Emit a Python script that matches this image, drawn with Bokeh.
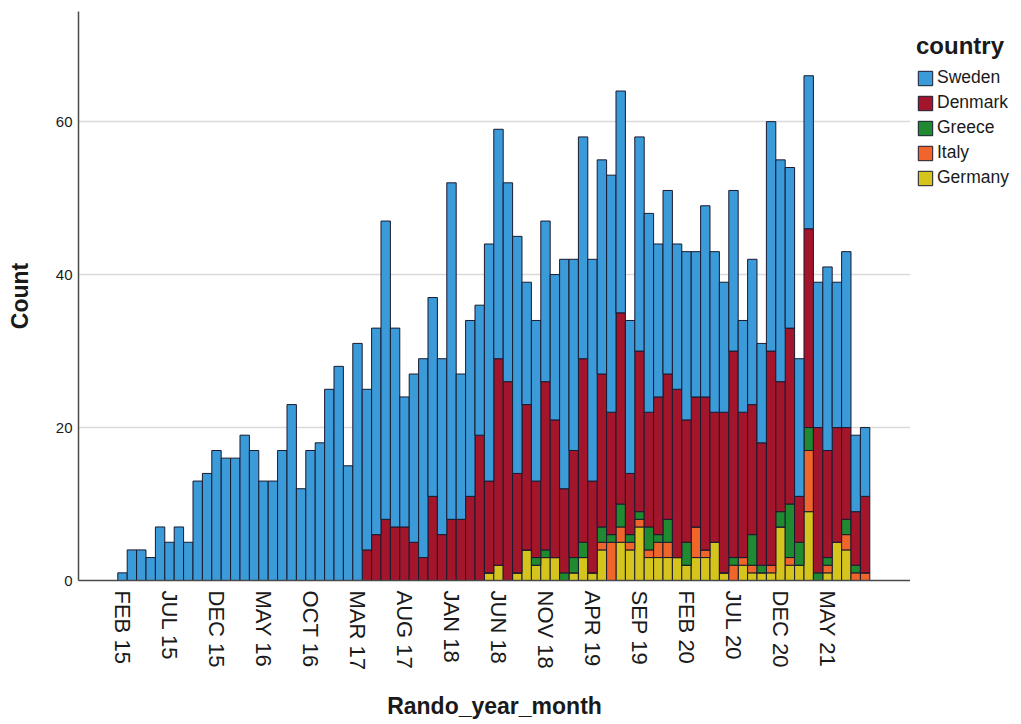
import math
from bokeh.plotting import figure
from bokeh.layouts import row
from bokeh.models import Range1d, FixedTicker, Legend, LegendItem, ColumnDataSource
from bokeh.embed import file_html
from bokeh.resources import INLINE

months = ["FEB 15", "MAR 15", "APR 15", "MAY 15", "JUN 15", "JUL 15", "AUG 15", "SEP 15", "OCT 15", "NOV 15", "DEC 15",
          "JAN 16", "FEB 16", "MAR 16", "APR 16", "MAY 16", "JUN 16", "JUL 16", "AUG 16", "SEP 16", "OCT 16", "NOV 16", "DEC 16",
          "JAN 17", "FEB 17", "MAR 17", "APR 17", "MAY 17", "JUN 17", "JUL 17", "AUG 17", "SEP 17", "OCT 17", "NOV 17", "DEC 17",
          "JAN 18", "FEB 18", "MAR 18", "APR 18", "MAY 18", "JUN 18", "JUL 18", "AUG 18", "SEP 18", "OCT 18", "NOV 18", "DEC 18",
          "JAN 19", "FEB 19", "MAR 19", "APR 19", "MAY 19", "JUN 19", "JUL 19", "AUG 19", "SEP 19", "OCT 19", "NOV 19", "DEC 19",
          "JAN 20", "FEB 20", "MAR 20", "APR 20", "MAY 20", "JUN 20", "JUL 20", "AUG 20", "SEP 20", "OCT 20", "NOV 20", "DEC 20",
          "JAN 21", "FEB 21", "MAR 21", "APR 21", "MAY 21", "JUN 21", "JUL 21", "AUG 21", "SEP 21"]

sweden = [1, 4, 4, 3, 7, 5, 7, 5, 13, 14, 17, 16, 16, 19, 17, 13, 13, 17, 23, 12,
          17, 18, 25, 28, 15, 31, 21, 27, 39, 26, 17, 22, 26, 26, 23, 44, 19, 23, 17, 31,
          30, 26, 31, 16, 21, 21, 19, 30, 25, 29, 29, 28, 31, 29, 20, 28, 26, 20, 24, 19,
          22, 19, 25, 21, 17, 21, 12, 19, 13, 30, 29, 21, 18, 20, 19, 24, 19, 23, 10, 9]
denmark = [0, 0, 0, 0, 0, 0, 0, 0, 0, 0, 0, 0, 0, 0, 0, 0, 0, 0, 0, 0,
           0, 0, 0, 0, 0, 0, 4, 6, 8, 7, 7, 5, 3, 11, 6, 8, 8, 11, 19, 12,
           27, 26, 13, 19, 10, 22, 18, 11, 14, 24, 12, 20, 16, 25, 8, 21, 15, 18, 19, 22,
           16, 17, 20, 17, 21, 27, 19, 17, 16, 28, 17, 23, 6, 26, 19, 14, 15, 12, 7, 10]
greece = [0, 0, 0, 0, 0, 0, 0, 0, 0, 0, 0, 0, 0, 0, 0, 0, 0, 0, 0, 0,
          0, 0, 0, 0, 0, 0, 0, 0, 0, 0, 0, 0, 0, 0, 0, 0, 0, 0, 0, 0,
          0, 0, 0, 0, 1, 1, 0, 1, 2, 2, 0, 2, 1, 3, 1, 1, 3, 1, 3, 0,
          3, 0, 0, 0, 0, 1, 0, 4, 1, 0, 2, 7, 3, 3, 1, 1, 0, 2, 1, 0]
italy = [0, 0, 0, 0, 0, 0, 0, 0, 0, 0, 0, 0, 0, 0, 0, 0, 0, 0, 0, 0,
         0, 0, 0, 0, 0, 0, 0, 0, 0, 0, 0, 0, 0, 0, 0, 0, 0, 0, 0, 0,
         0, 0, 0, 0, 0, 0, 0, 0, 0, 0, 0, 1, 5, 2, 1, 1, 1, 2, 2, 0,
         0, 4, 1, 0, 0, 2, 1, 1, 0, 1, 0, 1, 0, 8, 0, 1, 0, 2, 1, 1]
germany = [0, 0, 0, 0, 0, 0, 0, 0, 0, 0, 0, 0, 0, 0, 0, 0, 0, 0, 0, 0,
           0, 0, 0, 0, 0, 0, 0, 0, 0, 0, 0, 0, 0, 0, 0, 0, 0, 0, 0, 1,
           2, 0, 1, 4, 2, 3, 3, 0, 1, 3, 1, 4, 0, 5, 4, 7, 3, 3, 3, 3,
           2, 3, 3, 5, 1, 0, 2, 1, 1, 1, 7, 2, 2, 9, 0, 1, 5, 4, 0, 0]

countries = ["Sweden", "Denmark", "Greece", "Italy", "Germany"]
colors = {"Sweden": "#3b9ad8", "Denmark": "#a3152a", "Greece": "#1f8a30",
          "Italy": "#f0662a", "Germany": "#d4c41c"}
y_ticks = [0, 20, 40, 60]
grid_ticks = [20, 40, 60]
label_every = 5

FONT = "Liberation Sans"
TXT = "#1a1a1a"
EDGE = "#1a1a30"

x = list(range(len(months)))
source = ColumnDataSource(dict(x=x, Sweden=sweden, Denmark=denmark, Greece=greece,
                               Italy=italy, Germany=germany))

W, H = 910, 724
MT, MB = 11, 144
p = figure(width=W, height=H, output_backend="svg", toolbar_location=None,
           x_range=Range1d(-4.68, 83.83), y_range=Range1d(0, 74.4),
           min_border_left=78, min_border_right=0, min_border_top=MT, min_border_bottom=MB)
p.outline_line_color = None
p.background_fill_color = "white"
p.border_fill_color = "white"

stack_order = ["Germany", "Italy", "Greece", "Denmark", "Sweden"]
p.vbar_stack(stack_order, x="x", width=1.0, source=source,
             fill_color=[colors[c] for c in stack_order],
             line_color=EDGE, line_width=1)

p.xgrid.visible = False
p.ygrid.ticker = FixedTicker(ticks=grid_ticks)
p.ygrid.grid_line_color = "#dadada"
p.ygrid.grid_line_width = 1.5

tick_pos = list(range(0, len(months), label_every))
p.xaxis.ticker = FixedTicker(ticks=tick_pos)
p.xaxis.major_label_overrides = {i: months[i] for i in tick_pos}
p.xaxis.major_label_orientation = -math.pi / 2
p.yaxis.ticker = FixedTicker(ticks=y_ticks)

for ax in (p.xaxis[0], p.yaxis[0]):
    ax.axis_line_color = "#4a4a4a"
    ax.axis_line_width = 1.5
    ax.major_tick_line_color = None
    ax.major_tick_out = 0
    ax.major_tick_in = 0
    ax.minor_tick_line_color = None
    ax.major_label_text_font = FONT
    ax.major_label_text_color = TXT
    ax.axis_label_text_font = FONT
    ax.axis_label_text_font_style = "bold"
    ax.axis_label_text_font_size = "23px"
    ax.axis_label_text_color = TXT

p.xaxis.major_label_text_font_size = "22px"
p.xaxis.major_label_standoff = 10
p.xaxis.axis_label = "Rando_year_month"
p.xaxis.axis_label_standoff = 20
p.yaxis.major_label_text_font_size = "15px"
p.yaxis.major_label_standoff = 6
p.yaxis.axis_label = "Count"
p.yaxis.axis_label_standoff = 20

# legend panel to the right of the chart (its frame is aligned with the chart's frame)
lg = figure(width=1021 - W, height=H, output_backend="svg", toolbar_location=None,
            x_range=Range1d(0, 1), y_range=Range1d(0, 1),
            x_axis_location=None, y_axis_location=None,
            min_border_left=6, min_border_right=0, min_border_top=MT, min_border_bottom=MB)
lg.outline_line_color = None
lg.grid.visible = False
lg.border_fill_color = "white"
lg.background_fill_color = "white"
items = []
for c in countries:
    # swatch-only renderer placed outside the visible range
    r = lg.vbar(x=[5], top=[5], bottom=[4], width=0.5,
                fill_color=colors[c], line_color=EDGE, line_width=1)
    items.append(LegendItem(label=c, renderers=[r]))

legend = Legend(items=items, location=(0, 392), orientation="vertical")
legend.title = "country"
legend.title_text_font = FONT
legend.title_text_font_style = "bold"
legend.title_text_font_size = "24px"
legend.title_text_color = TXT
legend.title_standoff = 7
legend.label_text_font = FONT
legend.label_text_font_size = "17.5px"
legend.label_text_color = TXT
legend.glyph_width = 18
legend.glyph_height = 18
legend.label_height = 18
legend.label_standoff = 3
legend.spacing = 4
legend.padding = 2
legend.margin = 0
legend.border_line_color = None
legend.background_fill_alpha = 0
lg.add_layout(legend, "center")

layout = row(p, lg)
open("out.html", "w").write(file_html(layout, INLINE))
